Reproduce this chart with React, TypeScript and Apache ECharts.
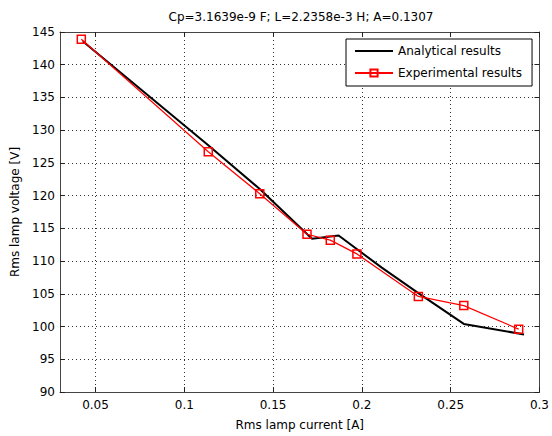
import { useEffect, useRef } from "react";
import * as echarts from "echarts";

const titleText = "Cp=3.1639e-9 F; L=2.2358e-3 H; A=0.1307";
const xAxisName = "Rms lamp current [A]";
const yAxisName = "Rms lamp voltage [V]";
const seriesNames = ["Analytical results", "Experimental results"];

const xTicks = [0.05, 0.1, 0.15, 0.2, 0.25, 0.3];

const analyticalX = [0.0428, 0.1135, 0.1425, 0.1719, 0.1869, 0.2112, 0.2318, 0.2574, 0.2913];
const analyticalY = [143.6, 127.7, 121.0, 113.4, 113.9, 109.0, 105.1, 100.4, 98.8];

const experimentalX = [0.042, 0.1135, 0.1425, 0.1691, 0.1822, 0.1972, 0.2318, 0.2574, 0.2883];
const experimentalY = [143.9, 126.7, 120.3, 114.1, 113.2, 111.1, 104.6, 103.2, 99.6];

const font = "DejaVu Sans";

export default function App() {
  const ref = useRef<HTMLDivElement>(null);

  useEffect(() => {
    if (!ref.current) return;
    const chart = echarts.init(ref.current, null, { renderer: "svg" });
    const gridLine = { show: true, lineStyle: { color: "#333", type: [1, 3], width: 1 } };
    const spine = { show: true, onZero: false, lineStyle: { color: "#444", width: 1 } };
    const tick = { show: true, inside: true, length: 5, lineStyle: { color: "#222", width: 1 } };
    const labelStyle = { color: "#000", fontSize: 12, fontFamily: font };

    chart.setOption({
      animation: false,
      backgroundColor: "#fff",
      textStyle: { fontFamily: font },
      title: {
        text: titleText,
        left: 296,
        top: 6,
        textAlign: "center",
        textStyle: { fontSize: 12, fontWeight: "normal", color: "#000", fontFamily: font },
      },
      legend: {
        orient: "vertical",
        left: 346,
        top: 39,
        padding: [5, 10, 6, 8],
        itemGap: 8,
        itemWidth: 38,
        itemHeight: 9,
        borderColor: "#000",
        borderWidth: 1,
        backgroundColor: "#fff",
        textStyle: { fontSize: 12, color: "#000", fontFamily: font, lineHeight: 14 },
        data: [
          { name: seriesNames[0], itemStyle: { opacity: 0 } },
          { name: seriesNames[1] },
        ],
      },
      grid: { left: 60, right: 10, top: 32, bottom: 41 },
      xAxis: [
        {
          type: "value",
          min: 0.03,
          max: 0.3,
          position: "bottom",
          name: xAxisName,
          nameLocation: "middle",
          nameGap: 27,
          nameTextStyle: labelStyle,
          axisLine: spine,
          axisTick: { ...tick, customValues: xTicks },
          axisLabel: { ...labelStyle, margin: 7, customValues: xTicks },
          splitLine: gridLine,
        },
        {
          type: "value",
          min: 0.03,
          max: 0.3,
          position: "top",
          axisLine: spine,
          axisTick: { ...tick, customValues: xTicks },
          axisLabel: { show: false, customValues: xTicks },
          splitLine: { show: false },
        },
      ],
      yAxis: [
        {
          type: "value",
          min: 90,
          max: 145,
          interval: 5,
          position: "left",
          name: yAxisName,
          nameLocation: "middle",
          nameGap: 36,
          nameTextStyle: labelStyle,
          axisLine: spine,
          axisTick: tick,
          axisLabel: { ...labelStyle, margin: 5 },
          splitLine: gridLine,
        },
        {
          type: "value",
          min: 90,
          max: 145,
          interval: 5,
          position: "right",
          axisLine: spine,
          axisTick: tick,
          axisLabel: { show: false },
          splitLine: { show: false },
        },
      ],
      series: [
        {
          name: seriesNames[0],
          type: "line",
          xAxisIndex: 0,
          yAxisIndex: 0,
          data: analyticalX.map((x, i) => [x, analyticalY[i]]),
          symbol: "none",
          lineStyle: { color: "#000", width: 2 },
          itemStyle: { color: "#000" },
          z: 2,
        },
        {
          name: seriesNames[1],
          type: "line",
          xAxisIndex: 0,
          yAxisIndex: 0,
          data: experimentalX.map((x, i) => [x, experimentalY[i]]),
          symbol: "rect",
          symbolSize: 8,
          lineStyle: { color: "#ff0000", width: 1.2 },
          itemStyle: { color: "rgba(255,255,255,0)", borderColor: "#ff0000", borderWidth: 1.5 },
          z: 3,
        },
      ],
    });
    return () => chart.dispose();
  }, []);

  return (
    <div
      ref={ref}
      style={{ position: "fixed", left: 0, top: 0, width: 552, height: 436, background: "#fff" }}
    />
  );
}
